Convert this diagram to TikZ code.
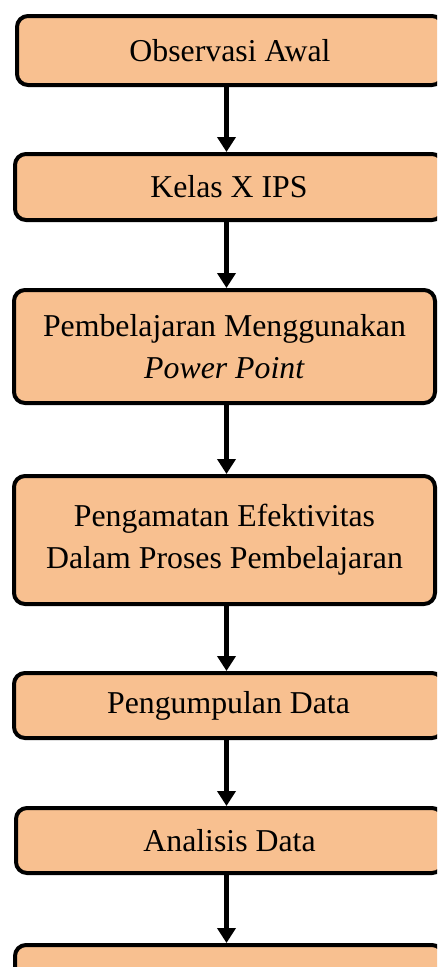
\documentclass[tikz,border=0pt]{standalone}
\usepackage{fontspec}
\setmainfont{Liberation Serif}
\usetikzlibrary{arrows.meta}
\definecolor{peach}{HTML}{F8C090}
\tikzset{
  flowbox/.style={draw=black, fill=peach, line width=4pt, rounded corners=11pt,
    align=center, inner sep=0pt, font=\fontsize{31.8}{42}\selectfont},
  flowarrow/.style={line width=5pt, -{Triangle[width=18pt,length=15pt]}}
}
\begin{document}
\begin{tikzpicture}[x=1pt,y=-1pt]
\useasboundingbox (0,0) rectangle (437,967);
\clip (0,0) rectangle (437,967);
\node[flowbox, minimum width=426pt, minimum height=69pt] (b1) at (230,50.5) {Observasi Awal};
\node[flowbox, minimum width=428pt, minimum height=66pt] (b2) at (229,187) {Kelas X IPS};
\node[flowbox, minimum width=421pt, minimum height=113pt] (b3) at (224.5,346.5) {Pembelajaran Menggunakan\\\textit{Power Point}};
\node[flowbox, minimum width=421pt, minimum height=128pt] (b4) at (224.5,540) {Pengamatan Efektivitas\\Dalam Proses Pembelajaran};
\node[flowbox, minimum width=429pt, minimum height=65pt] (b5) at (228.5,705.5) {Pengumpulan Data};
\node[flowbox, minimum width=427pt, minimum height=65pt] (b6) at (229.5,840.5) {Analisis Data};
\node[flowbox, minimum width=428pt, minimum height=65pt] (b7) at (229,977.5) {};
\coordinate (ax) at (226.5,0);
\draw[flowarrow] (ax |- b1.south) -- (ax |- b2.north);
\draw[flowarrow] (ax |- b2.south) -- (ax |- b3.north);
\draw[flowarrow] (ax |- b3.south) -- (ax |- b4.north);
\draw[flowarrow] (ax |- b4.south) -- (ax |- b5.north);
\draw[flowarrow] (ax |- b5.south) -- (ax |- b6.north);
\draw[flowarrow] (ax |- b6.south) -- (ax |- b7.north);
\end{tikzpicture}
\end{document}
